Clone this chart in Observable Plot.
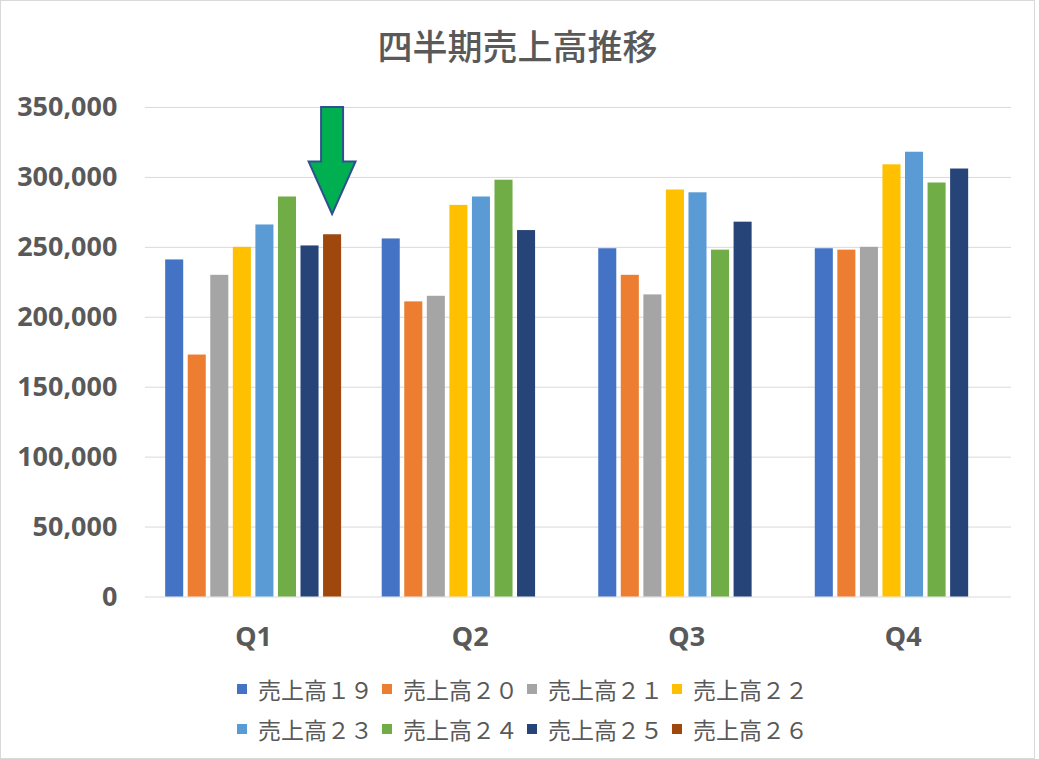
<!DOCTYPE html>
<html>
<head>
<meta charset="utf-8">
<script src="https://cdn.jsdelivr.net/npm/d3@7"></script>
<script src="https://cdn.jsdelivr.net/npm/@observablehq/plot@0.6"></script>
<style>
  body { margin: 0; background: #fff; }
  #chart {
    position: relative; width: 1035px; height: 759px; box-sizing: border-box;
    border: 1px solid #d9d9d9; background: #fff; overflow: hidden;
    font-family: "Noto Sans", "Noto Sans CJK JP", sans-serif; color: #595959;
  }
  #title {
    position: absolute; left: 0; right: 0; top: 24px; text-align: center;
    font-family: "Noto Sans CJK JP", sans-serif; font-size: 35px; font-weight: 500; line-height: 40px; color: #595959;
  }
  #plot { position: absolute; left: -1px; top: 84px; }
  #legend {
    position: absolute; left: 236px; top: 668px;
    display: grid; grid-template-columns: repeat(4, 145px); grid-auto-rows: 40px;
    font-family: "Noto Sans CJK JP", sans-serif; font-size: 23px; color: #595959;
  }
  .item { display: flex; align-items: center; height: 40px; white-space: nowrap; }
  .sw { width: 10px; height: 10px; margin-right: 11px; flex: none; }
</style>
</head>
<body>
<div id="chart">
  <div id="title"></div>
  <div id="plot"></div>
  <div id="legend"></div>
</div>
<script>
const titleText = "四半期売上高推移";
const quarters = ["Q1", "Q2", "Q3", "Q4"];
const series = ["売上高１９", "売上高２０", "売上高２１", "売上高２２", "売上高２３", "売上高２４", "売上高２５", "売上高２６"];
const colors = ["#4472C4", "#ED7D31", "#A5A5A5", "#FFC000", "#5B9BD5", "#70AD47", "#264478", "#9E480E"];
const yTicks = [0, 50000, 100000, 150000, 200000, 250000, 300000, 350000];

const s19 = [241000, 256000, 249000, 249000];
const s20 = [173000, 211000, 230000, 248000];
const s21 = [230000, 215000, 216000, 250000];
const s22 = [250000, 280000, 291000, 309000];
const s23 = [266000, 286000, 289000, 318000];
const s24 = [286000, 298000, 248000, 296000];
const s25 = [251000, 262000, 268000, 306000];
const s26 = [259000, null, null, null];
const seriesValues = [s19, s20, s21, s22, s23, s24, s25, s26];

// annotation arrow (value positions)
const arrowQuarter = "Q1";
const arrowSeries = "売上高２６";
const arrowValues = [350000, 311000, 273500]; // top, neck, tip

const rows = [];
quarters.forEach((q, qi) => {
  series.forEach((s, si) => {
    const v = seriesValues[si][qi];
    if (v != null) rows.push({quarter: q, series: s, value: v});
  });
});

document.getElementById("title").textContent = titleText;

const xPadInner = 0.2, xPadOuter = 0.9;

const plot = Plot.plot({
  width: 1035,
  height: 575,
  marginLeft: 145,
  marginRight: 23,
  marginTop: 22,
  marginBottom: 63,
  style: {
    fontFamily: '"Noto Sans", "Noto Sans CJK JP", sans-serif',
    fontSize: "27px",
    fontWeight: "bold",
    color: "#595959",
    background: "transparent",
    overflow: "visible"
  },
  facet: {data: rows, x: "quarter"},
  fx: {domain: quarters, padding: 0, round: false, axis: "bottom", label: null, tickSize: 0, tickPadding: 30},
  x: {domain: series, paddingInner: xPadInner, paddingOuter: xPadOuter, round: false, axis: null},
  y: {domain: [0, 350000], ticks: yTicks, tickFormat: d3.format(","), label: null, tickSize: 0, tickPadding: 28},
  color: {domain: series, range: colors},
  marks: [
    Plot.ruleY(yTicks, {stroke: "#d9d9d9", strokeWidth: 1}),
    Plot.barY(rows, {x: "series", y: "value", fill: "series"})
  ]
});
document.getElementById("plot").appendChild(plot);

// Arrow annotation positioned through the plot's scales
(function () {
  const svg = plot.tagName.toLowerCase() === "svg" ? plot : plot.querySelector("svg");
  const fxd = plot.scale("fx");
  const yd = plot.scale("y");
  const fxS = d3.scaleBand(fxd.domain, fxd.range)
    .paddingInner(fxd.paddingInner || 0).paddingOuter(fxd.paddingOuter || 0).align(fxd.align ?? 0.5);
  const xS = d3.scaleBand(series, [0, fxS.bandwidth()]).paddingInner(xPadInner).paddingOuter(xPadOuter);
  const yS = yd.apply ? (v) => yd.apply(v) : d3.scaleLinear(yd.domain, yd.range);
  const cx = fxS(arrowQuarter) + xS(arrowSeries) + xS.bandwidth() / 2;
  const [top, neck, tip] = arrowValues.map(yS);
  const sw = 11, hw = 23.5;
  const pts = [[cx - sw, top], [cx + sw, top], [cx + sw, neck], [cx + hw, neck], [cx, tip], [cx - hw, neck], [cx - sw, neck]];
  d3.select(svg).append("path")
    .attr("d", "M" + pts.map(p => p.join(",")).join("L") + "Z")
    .attr("fill", "#00B050")
    .attr("stroke", "#2F528F")
    .attr("stroke-width", 2)
    .attr("stroke-linejoin", "miter");
})();

// Legend
const legend = document.getElementById("legend");
series.forEach((s, i) => {
  const item = document.createElement("div");
  item.className = "item";
  const sw = document.createElement("span");
  sw.className = "sw";
  sw.style.background = colors[i];
  const t = document.createElement("span");
  t.textContent = s;
  item.appendChild(sw);
  item.appendChild(t);
  legend.appendChild(item);
});
</script>
</body>
</html>
